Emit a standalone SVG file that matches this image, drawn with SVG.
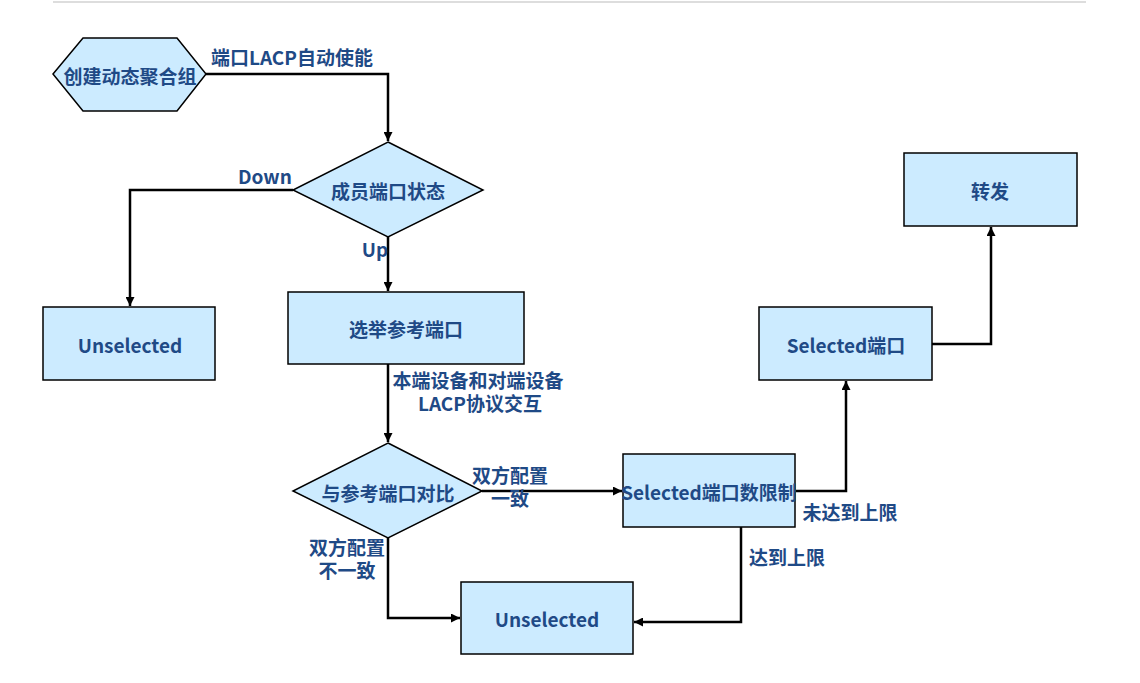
<svg xmlns="http://www.w3.org/2000/svg" width="1140" height="683" viewBox="0 0 1140 683">
<defs>
<style>
.n{fill:#CCEBFF;stroke:#000;stroke-width:1.5}
.t,.l{font-family:"Noto Sans CJK SC","Noto Sans",sans-serif;font-weight:bold;font-size:19px;fill:#1F4A86;text-anchor:middle;dominant-baseline:central}
.c{fill:none;stroke:#000;stroke-width:2.5}
</style>
<marker id="a" viewBox="0 0 10 10" refX="10" refY="5" markerWidth="10" markerHeight="9" markerUnits="userSpaceOnUse" orient="auto">
<path d="M0,0 L10,5 L0,10 z" fill="#000"/>
</marker>
</defs>
<rect width="1140" height="683" fill="#fff"/>
<line x1="53" y1="2" x2="1086" y2="2" stroke="#ddd" stroke-width="2"/>
<g id="connectors">
<polyline class="c" points="206,74 388,74 388,141" marker-end="url(#a)"/>
<polyline class="c" points="293,190 130,190 130,306" marker-end="url(#a)"/>
<polyline class="c" points="388,237 388,291" marker-end="url(#a)"/>
<polyline class="c" points="388,364 388,442" marker-end="url(#a)"/>
<polyline class="c" points="482,491 622,491" marker-end="url(#a)"/>
<polyline class="c" points="388,538 388,618 460,618" marker-end="url(#a)"/>
<polyline class="c" points="741,527 741,622 634,622" marker-end="url(#a)"/>
<polyline class="c" points="796,491 846,491 846,381" marker-end="url(#a)"/>
<polyline class="c" points="932,344 991,344 991,227" marker-end="url(#a)"/>
<text class="l" x="292" y="56">端口LACP自动使能</text>
<text class="l" x="265" y="175">Down</text>
<text class="l" x="375" y="248">Up</text>
<text class="l" x="478" y="379">本端设备和对端设备</text>
<text class="l" x="480" y="402">LACP协议交互</text>
<text class="l" x="510" y="474">双方配置</text>
<text class="l" x="510" y="497">一致</text>
<text class="l" x="347" y="546">双方配置</text>
<text class="l" x="347" y="569">不一致</text>
<text class="l" x="850" y="511">未达到上限</text>
<text class="l" x="787" y="556">达到上限</text>
</g>
<g id="n1"><polygon class="n" points="53,74 83,38 177,38 206,74 177,111 83,111"/><text class="t" x="130" y="75">创建动态聚合组</text></g>
<g id="n2"><polygon class="n" points="388,142 483,190 388,237 293,190"/><text class="t" x="388" y="190">成员端口状态</text></g>
<g id="n3"><rect class="n" x="43" y="307" width="172" height="73"/><text class="t" x="130" y="344">Unselected</text></g>
<g id="n4"><rect class="n" x="288" y="292" width="236" height="72"/><text class="t" x="406" y="328">选举参考端口</text></g>
<g id="n5"><polygon class="n" points="388,443 482,491 388,538 293,491"/><text class="t" x="388" y="492">与参考端口对比</text></g>
<g id="n6"><rect class="n" x="623" y="454" width="172" height="73"/><text class="t" x="709" y="491">Selected端口数限制</text></g>
<g id="n7"><rect class="n" x="461" y="582" width="172" height="72"/><text class="t" x="547" y="618">Unselected</text></g>
<g id="n8"><rect class="n" x="759" y="307" width="173" height="73"/><text class="t" x="846" y="344">Selected端口</text></g>
<g id="n9"><rect class="n" x="904" y="153" width="173" height="73"/><text class="t" x="990" y="190">转发</text></g>
</svg>
